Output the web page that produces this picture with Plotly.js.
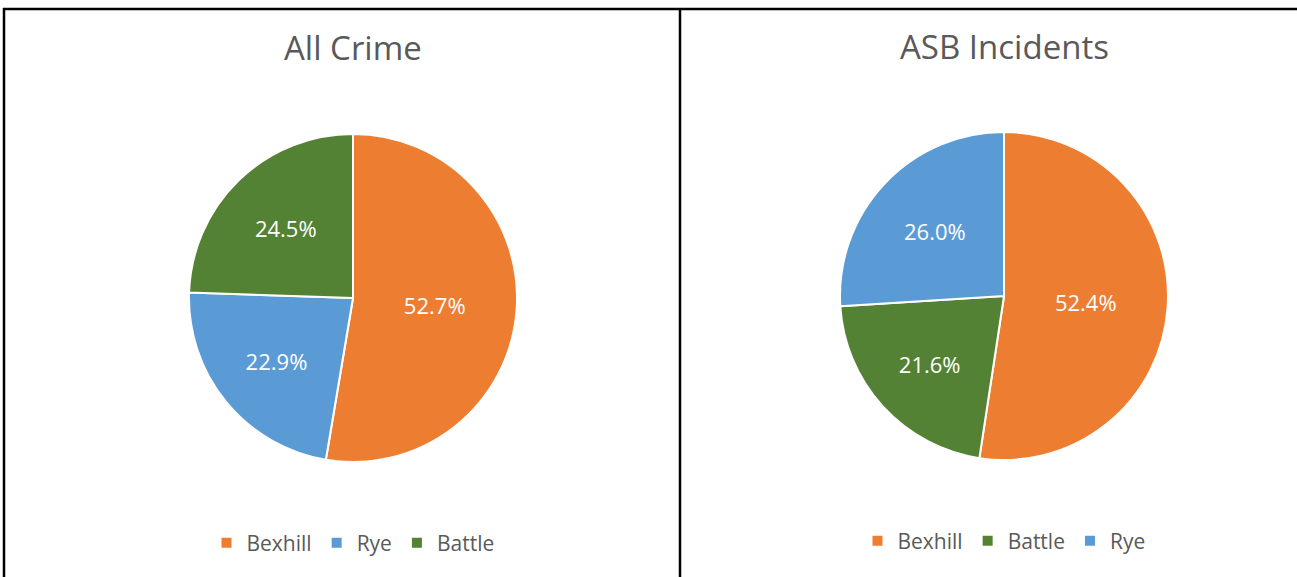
<!DOCTYPE html>
<html>
<head>
<meta charset="utf-8">
<script src="https://cdn.plot.ly/plotly-3.0.1.min.js"></script>
<style>
html,body{margin:0;padding:0;background:#fff;}
#wrap{position:relative;width:1297px;height:577px;}
.plot{position:absolute;left:0;top:0;width:1297px;height:577px;}
</style>
</head>
<body>
<div id="wrap"><div id="chartA" class="plot"></div><div id="chartB" class="plot"></div></div>
<script>
// Data
const crimeLabels = ["Bexhill", "Rye", "Battle"];
const crimeValues = [52.7, 22.9, 24.5];
const asbLabels = ["Bexhill", "Battle", "Rye"];
const asbValues = [52.4, 21.6, 26.0];
const chartTitles = ["All Crime", "ASB Incidents"];

const colorMap = {Bexhill: "#ED7D31", Rye: "#5B9BD5", Battle: "#548235"};

const W = 1297, H = 577;
const px = x => x / W;
const py = y => 1 - y / H;

function pieTrace(labels, values, dom) {
  return {
    type: "pie",
    labels: labels,
    values: values,
    sort: false,
    direction: "clockwise",
    rotation: 0,
    marker: {colors: labels.map(l => colorMap[l]), line: {color: "#ffffff", width: 2}},
    texttemplate: "%{value:.1f}%",
    textposition: "inside",
    insidetextorientation: "horizontal",
    textfont: {family: "Open Sans", size: 22, color: "#ffffff"},
    hoverinfo: "label+value",
    domain: dom,
    showlegend: true
  };
}

const legendFont = {family: "Open Sans", size: 21, color: "#595959"};
const titleFont = {family: "Open Sans", size: 33, color: "#595959"};

function makeLayout(cx, ly, title, ty, shapes, bg) {
  return {
    width: W, height: H,
    margin: {l: 0, r: 0, t: 0, b: 0},
    paper_bgcolor: bg,
    plot_bgcolor: "rgba(0,0,0,0)",
    legend: {orientation: "h", x: px(cx), xanchor: "center", y: py(ly), yanchor: "middle", font: legendFont, itemwidth: 30, bgcolor: "rgba(0,0,0,0)"},
    annotations: [
      {text: title, x: px(cx), y: py(ty), xref: "paper", yref: "paper", xanchor: "center", yanchor: "middle", showarrow: false, font: titleFont}
    ],
    shapes: shapes
  };
}

const borders = [
  {type: "line", xref: "paper", yref: "paper", x0: px(3), x1: 1, y0: py(9), y1: py(9), line: {color: "#000000", width: 2.5}},
  {type: "line", xref: "paper", yref: "paper", x0: px(4), x1: px(4), y0: py(8), y1: 0, line: {color: "#000000", width: 2.5}},
  {type: "line", xref: "paper", yref: "paper", x0: px(680), x1: px(680), y0: py(8), y1: 0, line: {color: "#000000", width: 2.5}}
];

Plotly.newPlot("chartA",
  [pieTrace(crimeLabels, crimeValues, {x: [px(189), px(517)], y: [py(462), py(134)]})],
  makeLayout(353, 543, chartTitles[0], 48, borders, "#ffffff"),
  {displayModeBar: false, staticPlot: true});

Plotly.newPlot("chartB",
  [pieTrace(asbLabels, asbValues, {x: [px(840), px(1168)], y: [py(460), py(132)]})],
  makeLayout(1004, 541, chartTitles[1], 47, [], "rgba(0,0,0,0)"),
  {displayModeBar: false, staticPlot: true});
</script>
</body>
</html>
